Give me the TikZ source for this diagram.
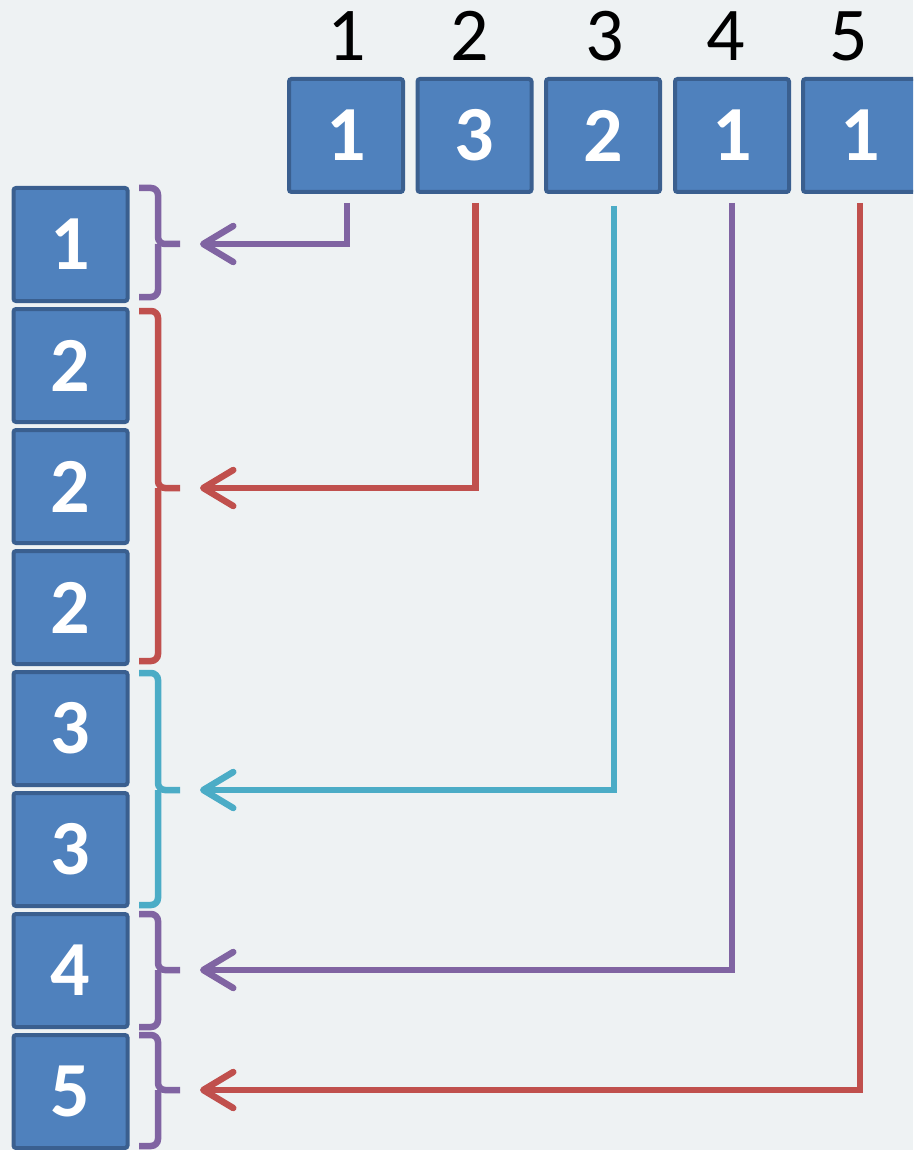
\documentclass[tikz,border=0pt]{standalone}
\usepackage{fontspec}
\setmainfont{Carlito}
\usetikzlibrary{arrows.meta}
\definecolor{bg}{HTML}{EEF2F3}
\definecolor{boxfill}{HTML}{4F81BD}
\definecolor{boxline}{HTML}{3A5F8F}
\definecolor{cpurple}{HTML}{8064A2}
\definecolor{cred}{HTML}{C0504D}
\definecolor{cteal}{HTML}{4BACC6}
\tikzset{
 cell/.style={draw=boxline, fill=boxfill, line width=4pt, rounded corners=2.5pt, minimum width=114pt, minimum height=113pt, inner sep=0pt, text=white, font=\fontsize{78}{78}\selectfont\bfseries},
 idx/.style={font=\fontsize{76}{76}\selectfont, inner sep=0pt, text=black},
 conn/.style={line width=6.5pt, -{Straight Barb[length=30pt,width=36pt,line cap=round,line join=round]}, shorten <=9pt},
 brace/.style={line width=6.5pt, rounded corners=7pt},
}
\begin{document}
\begin{tikzpicture}[x=1pt,y=-1pt]
\fill[bg] (0,0) rectangle (913,1150);
\clip (0,0) rectangle (913,1150);
% top index labels
\node[idx] (l1) at (347,36) {1};
\node[idx] (l2) at (470,36) {2};
\node[idx] (l3) at (605,36) {3};
\node[idx] (l4) at (726,36) {4};
\node[idx] (l5) at (849,36) {5};
% top cells
\node[cell] (t1) at (346,135.5) {1};
\node[cell] (t2) at (474.5,135.5) {3};
\node[cell] (t3) at (603,135.5) {2};
\node[cell] (t4) at (732,135.5) {1};
\node[cell] (t5) at (860,135.5) {1};
% left cells
\node[cell] (c1) at (70.5,244.5) {1};
\node[cell] (c2) at (70.5,365.5) {2};
\node[cell] (c3) at (70.5,486.5) {2};
\node[cell] (c4) at (70.5,607.5) {2};
\node[cell] (c5) at (70.5,728.5) {3};
\node[cell] (c6) at (70.5,849.5) {3};
\node[cell] (c7) at (70.5,970.5) {4};
\node[cell] (c8) at (70.5,1091.5) {5};
% braces
\draw[brace,cpurple] (139,188) -| (158,244) -- (180,244);
\draw[brace,cpurple] (139,297) -| (158,244);
\draw[brace,cred] (139,311) -| (158,488) -- (180,488);
\draw[brace,cred] (139,661) -| (158,488);
\draw[brace,cteal] (139,673) -| (158,790) -- (180,790);
\draw[brace,cteal] (139,905) -| (158,790);
\draw[brace,cpurple] (139,914) -| (158,970) -- (180,970);
\draw[brace,cpurple] (139,1027) -| (158,970);
\draw[brace,cpurple] (139,1035) -| (158,1090) -- (180,1090);
\draw[brace,cpurple] (139,1146) -| (158,1090);
% arrow ends
\coordinate (e1) at (200,244);
\coordinate (e2) at (200,488);
\coordinate (e3) at (200,790);
\coordinate (e4) at (200,970);
\coordinate (e5) at (200,1090);
% connectors
\draw[conn,cpurple] ([xshift=1pt]t1.south) |- (e1);
\draw[conn,cred] ([xshift=1pt]t2.south) |- (e2);
\draw[conn,cteal,shorten <=12pt] ([xshift=11pt]t3.south) |- (e3);
\draw[conn,cpurple] (t4.south) |- (e4);
\draw[conn,cred] (t5.south) |- (e5);
\end{tikzpicture}
\end{document}
